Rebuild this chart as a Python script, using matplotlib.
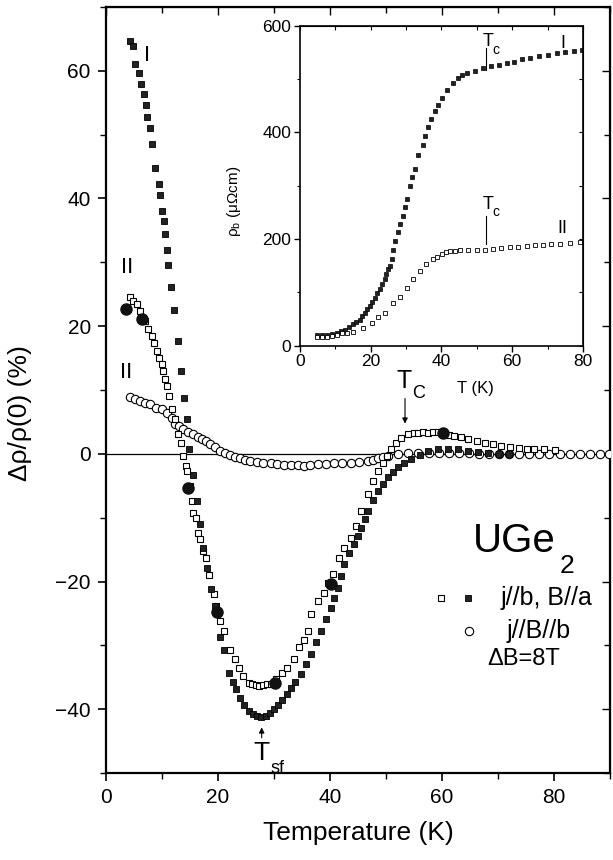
import matplotlib
matplotlib.use("Agg")
import matplotlib.pyplot as plt
from matplotlib.ticker import MultipleLocator

plt.rcParams['font.family'] = ['Liberation Sans', 'DejaVu Sans']
plt.rcParams['mathtext.fontset'] = 'custom'
plt.rcParams['mathtext.rm'] = 'Liberation Sans'

# main panel: config I, filled squares (j//b, B//a)
filled_T = [4.3, 4.8, 5.2, 5.8, 6.3, 6.7, 7.1, 7.3, 7.8, 8.2, 8.8, 9.4, 9.7, 10.0, 10.3,
            10.6, 10.9, 11.1, 11.6, 12.1, 12.8, 13.4, 14.0, 14.5, 14.9, 15.6, 16.3, 16.7,
            17.4, 18.1, 18.8, 19.5, 20.3, 21.0, 22.0, 22.7, 23.3, 24.0, 24.7, 25.5, 26.2,
            27.0, 27.7, 28.5, 29.2, 30.0, 30.8, 31.5, 32.3, 33.0, 33.8, 34.8, 35.7, 36.6,
            37.5, 38.4, 39.2, 40.1, 40.8, 41.4, 42.0, 42.5, 43.4, 44.3, 45.0, 45.5, 46.2,
            46.8, 47.7, 48.6, 49.5, 50.4, 51.3, 52.2, 53.3, 54.5, 56.0, 57.5, 59.3, 61.1,
            62.9, 64.7, 66.5, 68.3, 70.1, 71.9]
filled_y = [64.6, 63.8, 61.1, 59.7, 58.0, 56.3, 54.7, 52.7, 51.1, 48.6, 44.8, 42.3, 40.6, 38.1, 36.4,
            34.5, 32.0, 29.6, 26.2, 22.6, 17.6, 13.0, 8.8, 5.5, 0.8, -3.3, -7.4, -11.0,
            -14.7, -17.9, -21.2, -23.8, -28.7, -30.7, -34.3, -35.8, -36.8, -38.2, -39.3, -40.3, -40.8,
            -41.1, -41.2, -41.1, -40.6, -40.0, -39.3, -38.6, -37.6, -36.7, -35.7, -34.5, -32.9, -31.3,
            -29.5, -27.7, -25.9, -24.1, -22.5, -21.0, -19.2, -17.2, -15.6, -14.1, -12.8, -11.6, -10.2,
            -8.9, -7.3, -5.8, -4.7, -3.7, -2.8, -2.1, -1.4, -0.8, -0.1, 0.5, 0.7, 0.8,
            0.7, 0.5, 0.3, 0.1, 0.0, 0.0]

# config II, open squares (j//b, B//a)
open_T = [4.3, 4.8, 5.6, 6.1, 7.0, 7.5, 8.2, 8.6, 9.1, 9.5, 10.0, 10.2, 10.6, 10.9, 11.3,
          11.8, 12.4, 12.9, 13.3, 13.8, 14.2, 14.5, 15.0, 15.4, 15.6, 16.1, 16.5, 16.8,
          17.4, 17.9, 18.3, 19.2, 19.7, 20.4, 21.0, 22.2, 23.0, 23.7, 24.5, 25.5, 26.1,
          26.7, 27.4, 28.1, 28.8, 29.4, 30.4, 31.5, 32.4, 33.5, 34.4, 35.3, 36.0, 36.6,
          37.8, 38.9, 39.6, 40.5, 41.6, 42.5, 43.7, 44.6, 45.5, 46.8, 47.7, 48.6, 49.5,
          50.2, 50.9, 51.8, 52.7, 53.9, 55.0, 55.7, 56.6, 57.5, 58.4, 59.3, 60.2, 61.2,
          62.2, 63.4, 64.7, 66.2, 67.6, 69.1, 70.6, 72.1, 73.7, 75.1, 76.5, 78.3, 80.1]
open_y = [24.5, 24.0, 23.5, 22.4, 20.8, 19.6, 18.5, 17.4, 16.1, 15.0, 14.1, 13.0, 11.8, 10.7, 9.1,
          7.1, 5.5, 3.1, 1.7, -0.3, -1.9, -2.7, -5.0, -7.4, -9.2, -10.0, -12.4, -13.3,
          -15.2, -16.3, -19.0, -22.0, -23.8, -26.2, -27.7, -30.7, -32.2, -33.5, -34.8, -35.9, -36.1,
          -36.2, -36.3, -36.2, -36.1, -36.1, -35.3, -34.3, -33.5, -32.1, -30.3, -29.2, -27.7, -25.1,
          -23.0, -21.8, -20.2, -18.8, -16.3, -14.7, -13.2, -11.3, -8.9, -6.3, -4.2, -2.7, -1.4,
          -0.3, 0.8, 1.7, 2.5, 3.1, 3.3, 3.3, 3.4, 3.3, 3.4, 3.4, 3.3, 3.0,
          2.8, 2.6, 2.4, 2.0, 1.7, 1.5, 1.3, 1.1, 0.9, 0.8, 0.8, 0.7, 0.6]

# open circles (j//B//b)
circ_T = [4.3, 5.2, 6.1, 7.0, 7.9, 9.0, 10.0, 10.9, 11.8, 12.4, 13.1, 13.8, 14.7, 15.6,
          16.4, 17.2, 17.9, 18.6, 19.5, 20.4, 21.3, 22.2, 23.1, 24.0, 24.9, 25.8, 27.0,
          28.1, 29.4, 30.6, 31.8, 33.0, 34.2, 35.3, 36.5, 37.8, 39.2, 40.7, 42.2, 43.7,
          45.2, 46.8, 47.7, 48.6, 49.5, 50.4, 52.2, 54.0, 55.8, 57.6, 59.4, 61.2, 63.0,
          64.8, 66.6, 68.4, 70.2, 72.0, 73.8, 75.6, 77.4, 79.2, 81.0, 82.8, 84.6, 86.4,
          88.2, 89.8]
circ_y = [8.9, 8.6, 8.3, 8.0, 7.8, 7.2, 7.1, 6.4, 5.6, 4.7, 4.3, 3.9, 3.5, 3.1,
          2.7, 2.4, 2.0, 1.6, 1.0, 0.5, 0.1, -0.2, -0.5, -0.7, -0.9, -1.1, -1.3,
          -1.4, -1.5, -1.6, -1.7, -1.7, -1.8, -1.9, -1.7, -1.6, -1.6, -1.5, -1.4, -1.4,
          -1.2, -1.1, -0.9, -0.7, -0.5, -0.3, 0.0, 0.1, 0.2, 0.2, 0.2, 0.2, 0.1,
          0.1, 0.0, 0.0, 0.0, 0.0, 0.0, 0.0, 0.0, 0.0, 0.0, 0.0, 0.0, 0.0,
          0.0, 0.0]

# large filled dots
dot_T = [3.6, 6.4, 14.7, 19.9, 30.1, 40.1, 60.2]
dot_y = [22.7, 21.1, -5.4, -24.7, -35.9, -20.4, 3.3]

# inset: rho_b(T)
in1_T = [4.8, 6.2, 7.6, 9.0, 10.5, 11.6, 12.7, 13.8, 15.0, 16.0, 16.9, 17.6, 18.4, 19.1,
         19.8, 20.5, 21.2, 21.9, 22.6, 23.3, 24.0, 24.5, 24.9, 25.4, 26.0, 26.4, 27.0,
         27.7, 28.3, 29.1, 29.7, 30.2, 31.1, 31.8, 32.5, 33.3, 34.7, 35.4, 36.2, 37.1,
         38.1, 39.1, 40.1, 41.5, 43.2, 44.6, 45.9, 47.2, 49.5, 51.7, 54.0, 56.2, 58.5,
         60.6, 62.8, 65.0, 67.5, 70.0, 72.6, 75.0, 77.4, 79.7]
in1_rho = [21, 21, 21, 22, 24, 27, 30, 35, 40, 45, 49, 55, 62, 68,
           74, 82, 90, 98, 106, 115, 125, 134, 143, 149, 162, 180, 196,
           213, 228, 243, 260, 275, 300, 316, 332, 357, 377, 394, 411, 426,
           440, 452, 464, 479, 492, 502, 507, 511, 516, 521, 524, 527, 530,
           533, 537, 540, 543, 546, 549, 551, 553, 555]
in2_T = [4.8, 6.2, 7.6, 9.0, 10.5, 12.0, 13.3, 15.0, 17.8, 20.3, 22.0, 24.0, 26.3, 28.2,
         30.2, 31.9, 33.9, 35.8, 37.6, 38.8, 40.1, 41.2, 42.4, 43.8, 45.2, 47.6, 50.0,
         52.3, 54.5, 56.9, 59.3, 61.7, 64.1, 66.4, 68.6, 71.0, 73.4, 76.3, 79.1]
in2_rho = [17, 17, 17, 19, 21, 23, 24, 25, 34, 43, 53, 62, 81, 92,
           109, 125, 140, 153, 162, 167, 172, 175, 177, 178, 179, 179, 179,
           180, 181, 183, 185, 186, 187, 188, 189, 190, 191, 192, 194]

fig = plt.figure(figsize=(6.13, 8.6), dpi=100)
ax = fig.add_axes([0.173, 0.101, 0.822, 0.891])

ax.axhline(0, color='black', lw=0.9, zorder=1)
ax.plot(circ_T, circ_y, 'o', ms=6, mfc='white', mec='black', mew=0.8, zorder=3)
ax.plot(open_T, open_y, 's', ms=5, mfc='white', mec='black', mew=0.8, zorder=3)
ax.plot(filled_T, filled_y, 's', ms=4.5, mfc='#222222', mec='black', mew=0.6, zorder=4)
ax.plot(dot_T, dot_y, 'o', ms=8, color='#111111', zorder=5)

ax.set_xlim(0, 90)
ax.set_ylim(-50, 70)
ax.xaxis.set_major_locator(MultipleLocator(20))
ax.xaxis.set_minor_locator(MultipleLocator(10))
ax.yaxis.set_major_locator(MultipleLocator(20))
ax.yaxis.set_minor_locator(MultipleLocator(10))
ax.tick_params(which='major', direction='out', length=6, width=1.2, labelsize=15, pad=5)
ax.tick_params(which='minor', direction='out', length=4, width=1.0)
for s in ax.spines.values():
    s.set_linewidth(1.6)

# mirrored inward ticks on top and right
top = ax.secondary_xaxis('top')
top.xaxis.set_major_locator(MultipleLocator(20))
top.xaxis.set_minor_locator(MultipleLocator(10))
top.tick_params(which='both', direction='in', labeltop=False, width=1.0)
top.tick_params(which='major', length=6)
top.tick_params(which='minor', length=4)
right = ax.secondary_yaxis('right')
right.yaxis.set_major_locator(MultipleLocator(20))
right.yaxis.set_minor_locator(MultipleLocator(10))
right.tick_params(which='both', direction='in', labelright=False, width=1.0)
right.tick_params(which='major', length=6)
right.tick_params(which='minor', length=4)

ax.set_xlabel('Temperature (K)', fontsize=19, labelpad=10)
ax.set_ylabel('Δρ/ρ(0) (%)', fontsize=19)
ax.yaxis.set_label_coords(-0.147, 0.47)

# annotations
ax.text(7.4, 62.4, 'I', fontsize=16, ha='center', va='center')
ax.text(3.8, 29.2, 'II', fontsize=16, ha='center', va='center')
ax.text(3.5, 12.8, 'II', fontsize=16, ha='center', va='center')
ax.text(53.2, 11.4, 'T', fontsize=18, ha='center', va='center')
ax.text(55.8, 9.4, 'C', fontsize=13, ha='center', va='center')
ax.annotate('', xy=(53.4, 4.3), xytext=(53.4, 9.1),
            arrowprops=dict(arrowstyle='-|>', color='black', lw=0.8, mutation_scale=8))
ax.text(27.7, -46.9, 'T', fontsize=19, ha='center', va='center')
ax.text(30.7, -49.3, 'sf', fontsize=13, ha='center', va='center')
ax.annotate('', xy=(27.8, -42.4), xytext=(27.8, -44.9),
            arrowprops=dict(arrowstyle='-|>', color='black', lw=0.8, mutation_scale=8))

ax.text(72.9, -13.6, 'UGe', fontsize=29, ha='center', va='center')
ax.text(82.4, -17.6, '2', fontsize=19, ha='center', va='center')
ax.plot([59.9], [-22.6], 's', ms=5, mfc='white', mec='black', mew=0.8)
ax.plot([64.7], [-22.6], 's', ms=5, mfc='#222222', mec='black', mew=0.6)
ax.text(78.6, -22.6, 'j//b, B//a', fontsize=18, ha='center', va='center')
ax.plot([64.9], [-27.7], 'o', ms=6, mfc='white', mec='black', mew=0.8)
ax.text(77.2, -27.7, 'j//B//b', fontsize=18, ha='center', va='center')
ax.text(74.5, -32.1, 'ΔB=8T', fontsize=17, ha='center', va='center')

# inset
ins = fig.add_axes([0.489, 0.598, 0.462, 0.372])
ins.plot(in1_T, in1_rho, 's', ms=3, mfc='#222222', mec='black', mew=0.5)
ins.plot(in2_T, in2_rho, 's', ms=3.5, mfc='white', mec='black', mew=0.6)
ins.set_xlim(0, 80)
ins.set_ylim(0, 600)
ins.xaxis.set_major_locator(MultipleLocator(20))
ins.xaxis.set_minor_locator(MultipleLocator(10))
ins.yaxis.set_major_locator(MultipleLocator(200))
ins.yaxis.set_minor_locator(MultipleLocator(100))
ins.tick_params(which='major', direction='out', length=4, width=1.0, labelsize=12.5, pad=2)
ins.tick_params(which='minor', direction='out', length=2.5, width=0.8)
for s in ins.spines.values():
    s.set_linewidth(1.2)
itop = ins.secondary_xaxis('top')
itop.xaxis.set_major_locator(MultipleLocator(20))
itop.xaxis.set_minor_locator(MultipleLocator(10))
itop.tick_params(which='both', direction='in', labeltop=False, length=3, width=0.8)
iright = ins.secondary_yaxis('right')
iright.yaxis.set_major_locator(MultipleLocator(200))
iright.yaxis.set_minor_locator(MultipleLocator(100))
iright.tick_params(which='both', direction='in', labelright=False, length=3, width=0.8)

ins.set_xlabel('T (K)', fontsize=12)
ins.xaxis.set_label_coords(0.62, -0.11)
ins.set_ylabel('ρ$_\\mathrm{b}$ (μΩcm)', fontsize=11)
ins.yaxis.set_label_coords(-0.2, 0.45)

ins.plot([52.5, 52.5], [517, 558], color='black', lw=0.8)
ins.text(53.1, 570, 'T', fontsize=13, ha='center', va='center')
ins.text(55.3, 555, 'c', fontsize=10, ha='center', va='center')
ins.text(74.3, 567, 'I', fontsize=13, ha='center', va='center')
ins.plot([52.5, 52.5], [190, 243], color='black', lw=0.8)
ins.text(53.1, 265, 'T', fontsize=13, ha='center', va='center')
ins.text(55.3, 250, 'c', fontsize=10, ha='center', va='center')
ins.text(74.3, 219, 'II', fontsize=13, ha='center', va='center')

fig.savefig('out.png', dpi=100)
